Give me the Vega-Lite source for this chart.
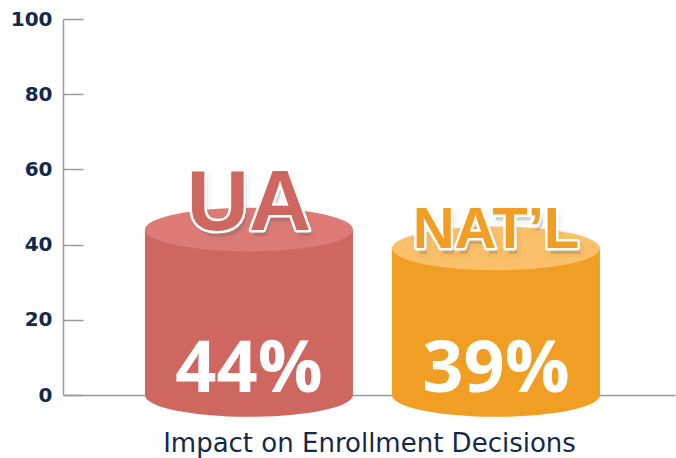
{
  "$schema": "https://vega.github.io/schema/vega-lite/v6.json",
  "width": 612,
  "height": 376,
  "autosize": {"type": "none"},
  "padding": {"left": 63, "top": 19, "right": 1, "bottom": 63},
  "background": "white",
  "config": {"view": {"stroke": null}},
  "data": {"values": [
    {"group": "UA", "value": 44, "pct": "44%"},
    {"group": "NAT’L", "value": 39, "pct": "39%"}
  ]},
  "encoding": {
    "x": {
      "field": "group", "type": "nominal", "sort": null,
      "scale": {"paddingInner": 0.15789, "paddingOuter": 0.31781, "align": 0.522},
      "axis": {
        "title": "Impact on Enrollment Decisions",
        "labels": false, "ticks": false,
        "domainColor": "#9a9a9a", "domainWidth": 1.5,
        "titleFont": "DejaVu Sans", "titleFontSize": 26, "titleFontWeight": "normal",
        "titleColor": "#14284b", "titlePadding": 35
      }
    }
  },
  "layer": [
    {
      "mark": {"type": "point", "filled": true, "opacity": 1, "strokeWidth": 0,
        "shape": "M -1 0 A 1 0.21 0 1 0 1 0 A 1 0.21 0 1 0 -1 0 Z", "size": 43264},
      "encoding": {
        "y": {"datum": 0, "type": "quantitative"},
        "color": {"field": "group", "type": "nominal",
          "scale": {"domain": ["UA", "NAT’L"], "range": ["#CE6760", "#F19F24"]}, "legend": null}
      }
    },
    {
      "mark": {"type": "bar", "width": {"band": 1}},
      "encoding": {
        "y": {"field": "value", "type": "quantitative",
          "scale": {"domain": [0, 100], "nice": false},
          "axis": {
            "title": null, "values": [0, 20, 40, 60, 80, 100], "grid": false,
            "domainColor": "#9a9a9a", "domainWidth": 1.5,
            "tickColor": "#9a9a9a", "tickWidth": 1.5, "tickSize": -20,
            "labelFont": "DejaVu Sans", "labelFontWeight": "bold", "labelFontSize": 20,
            "labelColor": "#14284b", "labelPadding": 31
          }},
        "y2": {"datum": 0},
        "color": {"field": "group", "type": "nominal",
          "scale": {"domain": ["UA", "NAT’L"], "range": ["#CE6760", "#F19F24"]}, "legend": null}
      }
    },
    {
      "mark": {"type": "point", "filled": true, "opacity": 1, "strokeWidth": 0,
        "shape": "M -1 0 A 1 0.21 0 1 0 1 0 A 1 0.21 0 1 0 -1 0 Z", "size": 43264,
        "fill": {"expr": "datum.group === 'UA' ? '#DE7B77' : '#FBC069'"}},
      "encoding": {
        "y": {"field": "value", "type": "quantitative"}
      }
    },
    {
      "mark": {"type": "text", "font": "Liberation Sans", "fontWeight": "bold", "baseline": "alphabetic",
        "dy": 6, "dx": 3, "fill": "#555555", "opacity": 0.25, "stroke": "#555555", "strokeWidth": 8, "strokeOpacity": 0.12},
      "encoding": {
        "y": {"field": "value", "type": "quantitative"},
        "text": {"field": "group"},
        "size": {"condition": {"test": "datum.group === 'UA'", "value": 86}, "value": 58}
      }
    },
    {
      "mark": {"type": "text", "font": "Liberation Sans", "fontWeight": "bold", "baseline": "alphabetic",
        "fill": "white", "stroke": "white", "strokeWidth": 5, "strokeJoin": "round"},
      "encoding": {
        "y": {"field": "value", "type": "quantitative"},
        "text": {"field": "group"},
        "size": {"condition": {"test": "datum.group === 'UA'", "value": 86}, "value": 58}
      }
    },
    {
      "mark": {"type": "text", "font": "Liberation Sans", "fontWeight": "bold", "baseline": "alphabetic"},
      "encoding": {
        "y": {"field": "value", "type": "quantitative"},
        "text": {"field": "group"},
        "size": {"condition": {"test": "datum.group === 'UA'", "value": 86}, "value": 58},
        "color": {"field": "group", "type": "nominal",
          "scale": {"domain": ["UA", "NAT’L"], "range": ["#CE6760", "#F19F24"]}, "legend": null}
      }
    },
    {
      "mark": {"type": "text", "font": "Open Sans", "fontWeight": "bold", "fontSize": 72,
        "baseline": "alphabetic", "dy": -3, "fill": "white"},
      "encoding": {
        "y": {"datum": 0, "type": "quantitative"},
        "text": {"field": "pct"}
      }
    }
  ]
}
